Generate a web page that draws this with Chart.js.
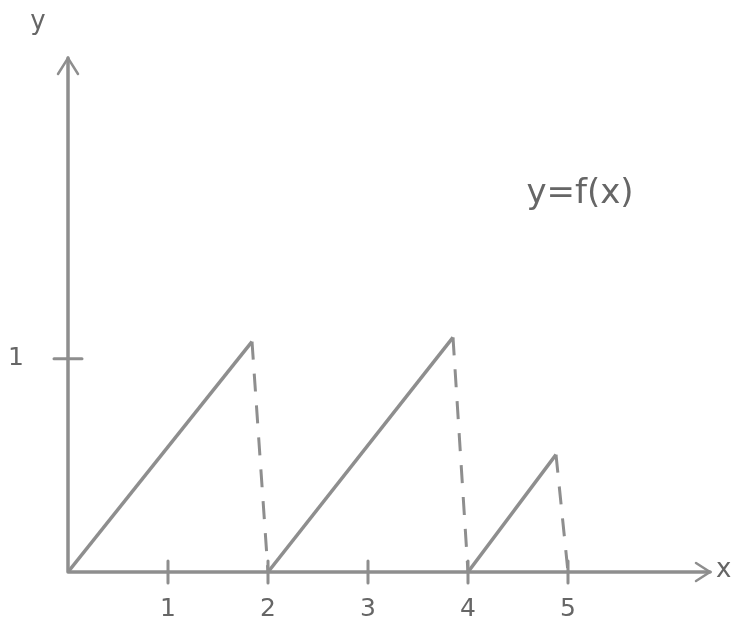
<!DOCTYPE html>
<html>
<head>
<meta charset="utf-8">
<script src="https://cdn.jsdelivr.net/npm/chart.js@4.4.1/dist/chart.umd.min.js"></script>
<style>
    html, body { margin: 0; padding: 0; background: #fff; }
    #wrap { width: 740px; height: 623px; }
</style>
</head>
<body>
<div id="wrap"><canvas id="sketch"></canvas></div>
<script>
// rising edges of the sawtooth
let riseStartX = [0, 2, 4];
let peakX = [1.84, 3.85, 4.88];
let peakY = [1.08, 1.1, 0.55];
// where each dashed drop lands on the x axis
let dropX = [2, 4, 5];
let xTickLabels = [1, 2, 3, 4, 5];
let yTickLabels = [1];
let curveLabel = 'y=f(x)';

const pencil = '#8e8e8e';
const ink = '#666666';

let datasets = [];
for (let i = 0; i < riseStartX.length; i++) {
    datasets.push({
        data: [{ x: riseStartX[i], y: 0 }, { x: peakX[i], y: peakY[i] }],
        borderColor: pencil,
        borderWidth: 3.5,
        pointRadius: 0,
        showLine: true
    });
    datasets.push({
        data: [{ x: peakX[i], y: peakY[i] }, { x: dropX[i], y: 0 }],
        borderColor: pencil,
        borderWidth: 3,
        borderDash: [18, 14],
        pointRadius: 0,
        showLine: true
    });
}

// axes, arrow heads, tick crosses and the text labels
const sketchAxes = {
    id: 'sketchAxes',
    afterDraw(chart) {
        let ctx = chart.ctx;
        let xs = chart.scales.x;
        let ys = chart.scales.y;
        let x0 = xs.getPixelForValue(0);
        let y0 = ys.getPixelForValue(0);
        let xEnd = xs.right - 8;
        let yEnd = ys.top - 2;

        ctx.save();
        ctx.strokeStyle = pencil;
        ctx.lineWidth = 3.5;
        ctx.lineCap = 'round';
        ctx.beginPath();
        ctx.moveTo(x0, y0);
        ctx.lineTo(xEnd, y0);
        ctx.moveTo(x0, y0);
        ctx.lineTo(x0, yEnd);
        ctx.stroke();

        ctx.lineWidth = 2.5;
        ctx.beginPath();
        ctx.moveTo(xEnd - 14, y0 - 9);
        ctx.lineTo(xEnd, y0);
        ctx.lineTo(xEnd - 14, y0 + 9);
        ctx.moveTo(x0 - 10, yEnd + 16);
        ctx.lineTo(x0, yEnd);
        ctx.lineTo(x0 + 10, yEnd + 16);
        ctx.stroke();

        ctx.lineWidth = 3;
        ctx.beginPath();
        xTickLabels.forEach(v => {
            let px = xs.getPixelForValue(v);
            ctx.moveTo(px, y0 - 11);
            ctx.lineTo(px, y0 + 11);
        });
        yTickLabels.forEach(v => {
            let py = ys.getPixelForValue(v);
            ctx.moveTo(x0 - 14, py);
            ctx.lineTo(x0 + 14, py);
        });
        ctx.stroke();

        ctx.fillStyle = ink;
        ctx.font = '26px "DejaVu Sans"';
        ctx.textBaseline = 'middle';
        ctx.textAlign = 'left';
        ctx.fillText('x', xEnd + 6, y0 - 2);
        ctx.textAlign = 'center';
        ctx.fillText('y', x0 - 30, 22);
        ctx.font = '34px "DejaVu Sans"';
        ctx.fillText(curveLabel, xs.getPixelForValue(5.12), ys.getPixelForValue(1.77));
        ctx.restore();
    }
};

new Chart(document.getElementById('sketch'), {
    type: 'scatter',
    data: { datasets: datasets },
    options: {
        responsive: true,
        maintainAspectRatio: false,
        animation: false,
        layout: { padding: { top: 60, right: 22, left: 0, bottom: 0 } },
        plugins: { legend: { display: false }, tooltip: { enabled: false } },
        scales: {
            x: {
                type: 'linear',
                min: 0,
                max: 6.5,
                grid: { display: false },
                border: { display: false },
                afterFit: scale => { scale.height = 45; },
                ticks: {
                    stepSize: 1,
                    padding: 14,
                    color: ink,
                    font: { size: 25, family: 'DejaVu Sans' },
                    callback: v => xTickLabels.includes(v) ? String(v) : ''
                }
            },
            y: {
                type: 'linear',
                min: 0,
                max: 2.4,
                grid: { display: false },
                border: { display: false },
                afterFit: scale => { scale.width = 68; },
                ticks: {
                    stepSize: 1,
                    padding: 36,
                    color: ink,
                    font: { size: 25, family: 'DejaVu Sans' },
                    callback: v => yTickLabels.includes(v) ? String(v) : ''
                }
            }
        }
    },
    plugins: [sketchAxes]
});
</script>
</body>
</html>
